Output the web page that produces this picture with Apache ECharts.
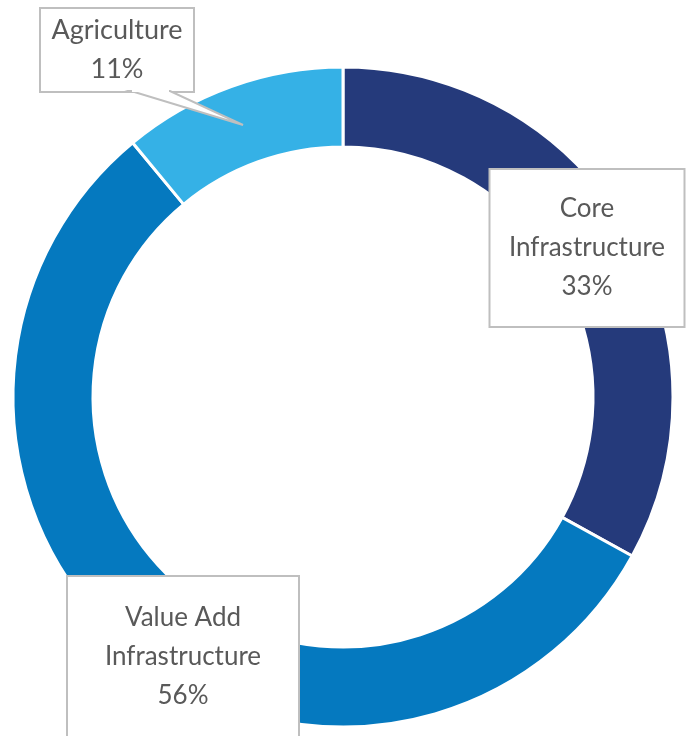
<!DOCTYPE html>
<html>
<head>
<meta charset="utf-8">
<script src="https://cdn.jsdelivr.net/npm/echarts@6/dist/echarts.min.js"></script>
<style>html,body{margin:0;padding:0;background:#fff;}#c{width:686px;height:736px;}</style>
</head>
<body>
<div id="c"></div>
<script>
var categories = ['Core\nInfrastructure', 'Value Add\nInfrastructure', 'Agriculture'];
var values = [33, 56, 11];
var colors = ['#253A7B', '#0579BF', '#35B1E6'];

var labelBoxes = [
  {x: 587, y: 248, w: 197, h: 160, ty: 4, fs: 26},
  {x: 183, y: 657, w: 234, h: 164, ty: 2, fs: 26},
  {x: 117, y: 50, w: 156, h: 86, ty: 3, fs: 27}
];

var chart = echarts.init(document.getElementById('c'), null, {renderer: 'canvas'});
var data = categories.map(function (c, i) {
  var b = labelBoxes[i];
  return {
    name: c,
    value: values[i],
    itemStyle: {color: colors[i]},
    label: {
      width: b.w - 4, height: b.h - 4 - b.ty * 2, fontSize: b.fs,
      padding: [b.ty * 2, 0, 0, 0]
    }
  };
});
chart.setOption({
  animation: false,
  graphic: [{
    type: 'polygon',
    z: 100,
    shape: {points: [[131, 91], [170, 91], [243, 125]]},
    style: {fill: '#fff', stroke: '#bfbfbf', lineWidth: 2}
  }, {
    type: 'rect',
    z: 101,
    shape: {x: 132, y: 89, width: 37, height: 3},
    style: {fill: '#fff'}
  }],
  series: [{
    type: 'pie',
    center: [343, 397],
    radius: [250, 330],
    startAngle: 90,
    clockwise: true,
    avoidLabelOverlap: false,
    itemStyle: {borderColor: '#fff', borderWidth: 3},
    label: {
      show: true,
      position: 'inside',
      formatter: function (p) { return p.name + '\n' + p.value + '%'; },
      fontFamily: 'Lato',
      fontSize: 26,
      lineHeight: 39,
      color: '#595959',
      backgroundColor: '#fff',
      borderColor: '#bfbfbf',
      borderWidth: 2,
      align: 'center',
      verticalAlign: 'middle'
    },
    labelLine: {show: false},
    labelLayout: function (p) {
      var b = labelBoxes[p.dataIndex];
      return {x: b.x, y: b.y, align: 'center', verticalAlign: 'middle'};
    },
    data: data
  }]
});
</script>
</body>
</html>
